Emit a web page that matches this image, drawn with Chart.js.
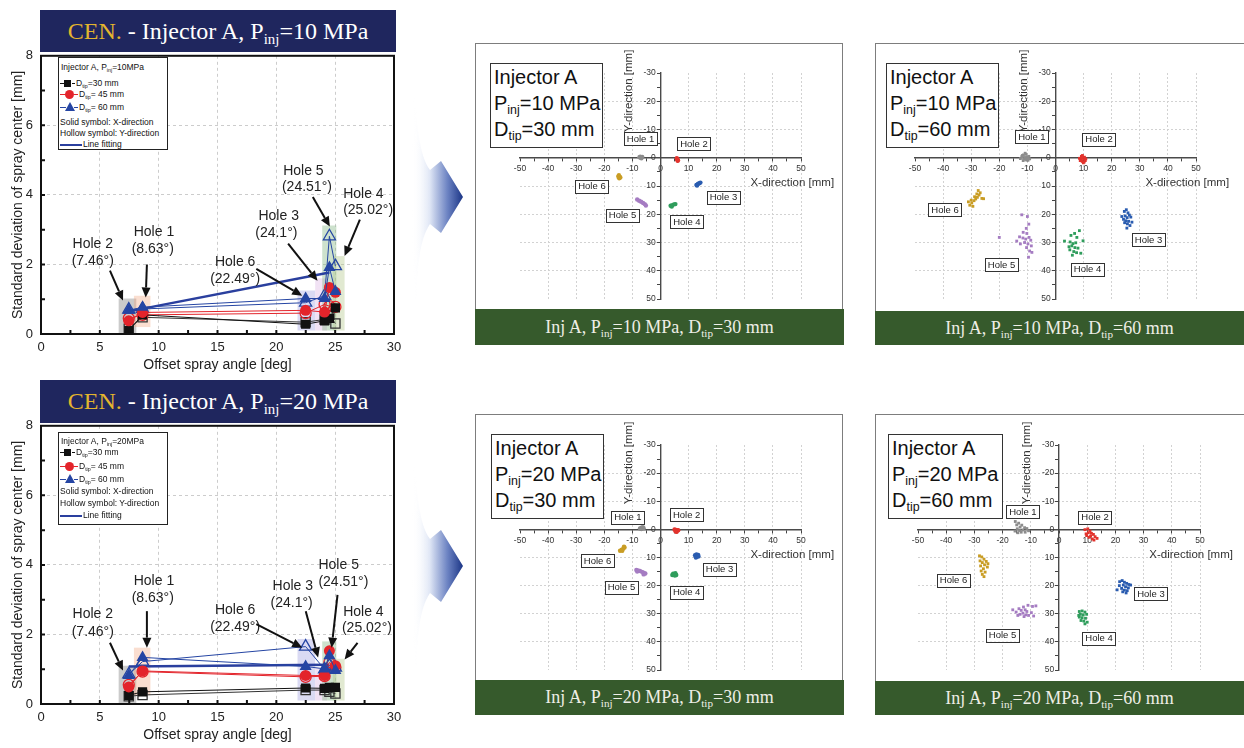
<!DOCTYPE html>
<html>
<head>
<meta charset="utf-8">
<script src="https://cdn.jsdelivr.net/npm/chart.js@4.4.1/dist/chart.umd.min.js"></script>
<style>
  html, body { margin: 0; padding: 0; background: #fff; }
  #page { position: relative; width: 1244px; height: 748px; overflow: hidden; font-family: "Liberation Sans", Arial, sans-serif; }
  .abs { position: absolute; }
  canvas { position: absolute; }
  sub { font-size: 0.62em; vertical-align: -0.35em; line-height: 0; }
  .banner { position: absolute; background: #1f265e; color: #fff; font-family: "Liberation Serif", "Times New Roman", serif; font-size: 24px; text-align: center; white-space: nowrap; }
  .banner .cen { color: #e3b52e; }
  .legend { position: absolute; background: #fff; border: 1px solid #222; box-sizing: border-box; color: #111; }
  .lt { position: absolute; line-height: 10px; white-space: nowrap; font-size: 8.5px; }
  .seg { position: absolute; height: 1px; }
  .sq { position: absolute; width: 7px; height: 7px; background: #111; }
  .ci { position: absolute; width: 9px; height: 9px; border-radius: 50%; background: #e3242b; }
  .tr { position: absolute; width: 0; height: 0; border-left: 5px solid transparent; border-right: 5px solid transparent; border-bottom: 9px solid #2545a3; }
  .fr { position: absolute; border: 1.5px solid #7d7d7d; border-bottom: none; box-sizing: border-box; }
  .gb { position: absolute; background: #365a2c; color: #eeeee6; font-family: "Liberation Serif", "Times New Roman", serif; font-size: 18px; text-align: center; white-space: nowrap; }
  .tb { position: absolute; background: #fff; border: 1.5px solid #333; box-sizing: border-box; font-size: 20px; line-height: 26px; padding-left: 3px; color: #111; white-space: nowrap; }
</style>
</head>
<body>
<div id="page">
  <!-- offset-angle charts -->
  <canvas id="c10" width="410" height="335" style="left:0;top:40px;width:410px;height:335px"></canvas>
  <canvas id="c20" width="410" height="335" style="left:0;top:410px;width:410px;height:335px"></canvas>
  <div class="banner" style="left:40px;top:10px;width:356px;height:42px;line-height:42px"><span class="cen">CEN.</span> - Injector A, P<sub>inj</sub>=10 MPa</div>
  <div class="banner" style="left:40px;top:380px;width:356px;height:43px;line-height:43px"><span class="cen">CEN.</span> - Injector A, P<sub>inj</sub>=20 MPa</div>

  <!-- spray-center scatter panels -->
  <div class="fr" style="left:475px;top:43px;width:368px;height:266px"></div>
  <div class="fr" style="left:875px;top:43px;width:380px;height:268px"></div>
  <div class="fr" style="left:475px;top:414px;width:368px;height:266px"></div>
  <div class="fr" style="left:875px;top:414px;width:380px;height:267px"></div>

  <canvas id="s10a" width="366" height="265" style="left:476px;top:44px;width:366px;height:265px"></canvas>
  <canvas id="s10b" width="368" height="267" style="left:876px;top:44px;width:368px;height:267px"></canvas>
  <canvas id="s20a" width="366" height="265" style="left:476px;top:415px;width:366px;height:265px"></canvas>
  <canvas id="s20b" width="368" height="266" style="left:876px;top:415px;width:368px;height:266px"></canvas>

  <div class="tb" style="left:490px;top:63px;width:113px;height:85px">Injector A<br>P<sub>inj</sub>=10 MPa<br>D<sub>tip</sub>=30 mm</div>
  <div class="tb" style="left:886px;top:63px;width:113px;height:85px">Injector A<br>P<sub>inj</sub>=10 MPa<br>D<sub>tip</sub>=60 mm</div>
  <div class="tb" style="left:491px;top:434px;width:113px;height:85px">Injector A<br>P<sub>inj</sub>=20 MPa<br>D<sub>tip</sub>=30 mm</div>
  <div class="tb" style="left:888px;top:434px;width:115px;height:85px">Injector A<br>P<sub>inj</sub>=20 MPa<br>D<sub>tip</sub>=60 mm</div>

  <div class="gb" style="left:475px;top:309px;width:369px;height:36px;line-height:36px">Inj A, P<sub>inj</sub>=10 MPa, D<sub>tip</sub>=30 mm</div>
  <div class="gb" style="left:875px;top:311px;width:369px;height:34px;line-height:34px">Inj A, P<sub>inj</sub>=10 MPa, D<sub>tip</sub>=60 mm</div>
  <div class="gb" style="left:475px;top:680px;width:369px;height:35px;line-height:35px">Inj A, P<sub>inj</sub>=20 MPa, D<sub>tip</sub>=30 mm</div>
  <div class="gb" style="left:875px;top:681px;width:369px;height:34px;line-height:34px">Inj A, P<sub>inj</sub>=20 MPa, D<sub>tip</sub>=60 mm</div>

  <!-- connecting arrows -->
  <svg class="abs" style="left:0;top:0" width="1244" height="748" viewBox="0 0 1244 748">
    <defs>
      <linearGradient id="ag" x1="0" y1="0" x2="1" y2="0">
        <stop offset="0" stop-color="#ffffff" stop-opacity="0"/>
        <stop offset="0.35" stop-color="#dfe6f5"/>
        <stop offset="0.7" stop-color="#6b82c2"/>
        <stop offset="1" stop-color="#1b3586"/>
      </linearGradient>
      <linearGradient id="fade" x1="0" y1="0" x2="0" y2="1">
        <stop offset="0" stop-color="#fff" stop-opacity="0"/>
        <stop offset="0.3" stop-color="#fff" stop-opacity="1"/>
        <stop offset="0.7" stop-color="#fff" stop-opacity="1"/>
        <stop offset="1" stop-color="#fff" stop-opacity="0"/>
      </linearGradient>
      <mask id="am" maskContentUnits="objectBoundingBox">
        <rect x="0" y="0" width="1" height="1" fill="url(#fade)"/>
      </mask>
      <path id="arrowShape" d="M414 87 C417 125 419 155 430 170 L441 161 L463 197 L441 233 L430 224 C419 240 417 270 416 310 C413 270 412 240 412 197 C412 150 412 120 414 87 Z"/>
    </defs>
    <g mask="url(#am)"><use href="#arrowShape" fill="url(#ag)"/></g>
    <g mask="url(#am)" transform="translate(0,369)"><use href="#arrowShape" fill="url(#ag)"/></g>
  </svg>
</div>

<script>
const FONT = '"Liberation Sans", Arial, sans-serif';

// ---------- Standard deviation vs. offset spray angle ----------
const holeNames  = ['Hole 2', 'Hole 1', 'Hole 6', 'Hole 3', 'Hole 5', 'Hole 4'];
const holeAngles = [7.46, 8.63, 22.49, 24.1, 24.51, 25.02];

// Pinj = 10 MPa (X = solid symbols, Y = hollow symbols)
const p10_d30_x = [0.10, 0.55, 0.28, 0.38, 0.45, 0.75];
const p10_d30_y = [0.15, 0.48, 0.34, 0.42, 0.55, 0.30];
const p10_d45_x = [0.38, 0.62, 0.68, 0.63, 1.34, 1.20];
const p10_d45_y = [0.45, 0.55, 0.60, 0.85, 0.80, 0.78];
const p10_d60_x = [0.68, 0.77, 1.02, 1.02, 1.91, 1.22];
const p10_d60_y = [0.70, 0.72, 0.90, 1.10, 2.81, 1.95];
const p10_fit   = [[7.46, 0.65], [24.51, 1.77]];

// Pinj = 20 MPa
const p20_d30_x = [0.25, 0.35, 0.46, 0.45, 0.48, 0.48];
const p20_d30_y = [0.22, 0.26, 0.40, 0.40, 0.35, 0.30];
const p20_d45_x = [0.49, 0.95, 0.82, 0.82, 1.53, 1.10];
const p20_d45_y = [0.55, 0.93, 0.78, 0.80, 1.20, 1.05];
const p20_d60_x = [0.82, 1.34, 1.08, 1.01, 1.39, 0.96];
const p20_d60_y = [0.85, 1.22, 1.65, 1.00, 1.10, 1.05];
const p20_fit   = [[7.46, 1.08], [24.51, 1.13]];

// ---------- Spray-center scatter (x, y in mm) ----------
// Pinj = 10 MPa, Dtip = 30 mm
const p10d30_h1 = [[-7.5,-0.2],[-7,0],[-6.5,-0.3],[-6.8,0.2],[-7.2,-0.4]];
const p10d30_h2 = [[5.8,0.2],[6,0.6],[6.2,0.9],[5.9,0.4],[6.1,1.1]];
const p10d30_h3 = [[12.8,9.6],[13.3,9.3],[13.8,9.0],[14.2,8.8],[13,9.8]];
const p10d30_h4 = [[3.6,17],[4.2,16.8],[4.8,16.5],[5.3,16.4],[4,17.3]];
const p10d30_h5 = [[-8.3,14.8],[-7.6,15.2],[-6.9,15.6],[-6.2,16],[-5.6,16.4],[-5.2,16.9]];
const p10d30_h6 = [[-14.8,6.2],[-14.5,6.8],[-14.7,7.3],[-14.3,7.0],[-15,6.6]];
// Pinj = 10 MPa, Dtip = 60 mm
const p10d60_h1 = [[-12.5,0.3],[-11.8,-0.8],[-11.2,0.5],[-10.5,-1.2],[-10,0.2],[-9.5,-0.5],[-11,-0.1],[-10.3,0.8],[-12,-0.4],[-9.2,0.4],[-10.8,-1.6],[-11.5,1.0],[-10.1,-0.3],[-9.8,0.9],[-11.4,-1.0],[-10.6,0.4]];
const p10d60_h2 = [[8.5,0.2],[9.2,-0.5],[10,0.3],[10.6,1.0],[9.5,1.3],[8.8,1.0],[10.3,-0.2],[9.9,1.8],[9.0,0.6],[10.8,0.4],[9.6,-0.8],[10.2,1.5],[9.4,0.2]];
const p10d60_h3 = [[24.5,19],[25.2,18.4],[25.8,19.5],[26.3,20.3],[24.8,20.6],[25.5,21.2],[26.8,21.0],[24.2,21.8],[25,22.3],[26,22.5],[27.2,22.8],[25.6,23.4],[24.6,23],[26.5,24],[25.4,24.9],[23.6,20.8]];
const p10d60_h4 = [[5.5,27.5],[6.8,26.8],[8.5,25.8],[7.6,28.2],[3.2,29.5],[5.2,29.8],[6.2,30.4],[7.2,30.1],[9.8,29.4],[5.8,31.2],[6.9,31.8],[8.0,32],[5.1,32.6],[6.5,33.2],[7.5,33.6],[9,33.8],[6,34.5],[4.8,31.5]];
const p10d60_h5 = [[-12,20.2],[-10,20.8],[-9.5,23.5],[-10.4,25],[-11.5,26.4],[-10.2,26.8],[-12.8,28],[-11.6,28.4],[-10.6,28.8],[-9.4,28.2],[-13.8,29.5],[-11,30],[-9.8,30.5],[-8.6,31.2],[-10.3,31.8],[-9.2,33],[-8.4,33.5],[-9.6,35.2],[-20,28.2],[-12.5,30.5],[-8.8,29.2]];
const p10d60_h6 = [[-30.5,16.8],[-29.8,16],[-29,15.2],[-28.4,14.6],[-27.8,14],[-27.2,13.2],[-26.8,12.4],[-27.5,11.6],[-28.8,13.8],[-30,15],[-26.2,14.4],[-25.6,14.5],[-31,15.6],[-28,12.8],[-29.4,17.2]];
// Pinj = 20 MPa, Dtip = 30 mm
const p20d30_h1 = [[-7.3,-0.3],[-6.8,-0.6],[-6.3,-0.8],[-6,-0.4],[-6.8,-0.1]];
const p20d30_h2 = [[5,0],[5.5,0.2],[6,0.4],[5.7,0.9],[6.3,0.3],[5.3,0.6]];
const p20d30_h3 = [[12.3,9.2],[12.8,8.9],[13.4,9.1],[13,9.7],[12.6,10],[13.5,9.6]];
const p20d30_h4 = [[4.2,16.2],[4.8,16],[5.3,15.6],[5.6,16.2],[4.5,15.8],[5.1,16.4]];
const p20d30_h5 = [[-8.6,14.4],[-8,14.6],[-7.3,14.8],[-6.6,15.1],[-6,15.4],[-5.4,15.7],[-8.3,15],[-6,16]];
const p20d30_h6 = [[-14.4,7.6],[-13.8,7.2],[-13.2,6.8],[-12.8,6.4],[-13.6,7.6],[-13,6.2]];
// Pinj = 20 MPa, Dtip = 60 mm
const p20d60_h1 = [[-15.5,-2.8],[-15,-1.6],[-14.3,-2.2],[-13.8,-0.8],[-13.2,-1.5],[-14.8,-0.2],[-14,0.4],[-12.8,0.2],[-15.6,0.6],[-13.4,1.0],[-12.2,-0.6],[-11.4,-0.3],[-10.8,0.5],[-14.6,1.2],[-12,1.0]];
const p20d60_h2 = [[9.2,0.1],[10.2,-0.2],[11,0.6],[10.4,1.2],[9.6,1.6],[11.5,1.4],[12.2,1.8],[11.2,2.4],[10.6,2.8],[12.8,2.6],[13.5,3.2],[11.8,3.4],[9.8,2.2],[12.4,3.8]];
const p20d60_h3 = [[21.5,18.6],[22.4,18.2],[23.2,18.8],[24,19.2],[24.8,19.6],[22.8,19.8],[23.6,20.4],[24.6,20.8],[22.2,21],[23.2,21.6],[24.2,21.8],[20.6,21.5],[25.4,19.8],[23.8,22.6],[22.6,22.2],[21.4,20]];
const p20d60_h4 = [[7.2,29.2],[8.2,29],[9.2,29.4],[7.6,30.2],[8.6,30.4],[9.8,30.2],[7.2,31.2],[8.2,31.4],[9.4,31.6],[7.8,32.4],[8.8,32.6],[10,33],[9.2,33.6],[7,30.6]];
const p20d60_h5 = [[-16.4,28.6],[-15.2,29.4],[-14.2,28.2],[-13.4,28.8],[-12.6,27.6],[-12,28.6],[-11.4,29.2],[-12.8,29.8],[-13.8,30.2],[-11.8,30.4],[-10.8,30.6],[-9.8,29.6],[-9,30.8],[-12.4,31],[-14.6,30.6],[-8.2,27.2],[-9.4,27.4],[-11,27]];
const p20d60_h6 = [[-28.2,9.4],[-27.4,9.8],[-26.6,10.6],[-28,11.2],[-27.2,11.8],[-25.8,11.4],[-26.4,12.6],[-27.8,13],[-25.4,13.4],[-26.8,14],[-27.6,14.8],[-26.2,15.2],[-27.2,16],[-26.6,16.8],[-25.2,12.2]];

// ---------- annotation layout (offset-angle charts) ----------
// shaded groups per hole: [x0, x1, top, bottom, colour]
const shade10 = [[6.6,8.1,1.02,0,'rgba(105,105,105,0.35)'],[7.9,9.3,1.1,0.2,'rgba(240,160,120,0.35)'],[21.8,23.3,1.25,0.1,'rgba(150,150,220,0.35)'],[23.3,24.3,1.6,0.1,'rgba(225,190,230,0.45)'],[23.9,25.1,3.12,0.1,'rgba(130,180,130,0.4)'],[24.8,25.8,2.24,0.1,'rgba(180,200,140,0.4)']];
const shade20 = [[6.6,8.1,1.1,0,'rgba(105,105,105,0.35)'],[7.9,9.3,1.62,0.25,'rgba(240,160,120,0.35)'],[21.8,23.3,1.87,0.1,'rgba(150,150,220,0.35)'],[23.3,24.3,1.05,0.1,'rgba(225,190,230,0.45)'],[23.9,25.1,1.8,0.1,'rgba(130,180,130,0.4)'],[24.8,25.8,1.3,0.1,'rgba(180,200,140,0.4)']];
// callouts: [name x, name y, angle x, angle y, arrow from x, from y, to x, to y]
const call10 = [[4.4,2.58,4.4,2.1,5.86,1.82,6.97,0.96],[9.6,2.93,9.5,2.43,9.0,2.0,8.9,1.05],[16.5,2.08,16.5,1.58,18.3,1.87,22.2,1.1],[20.2,3.4,20.0,2.9,21.0,2.6,23.5,1.53],[22.3,4.68,22.6,4.23,23.1,3.94,24.55,3.09],[27.4,4.03,27.8,3.55,27.1,3.29,25.8,2.24]];
const call20 = [[4.4,2.58,4.4,2.07,5.86,1.76,6.97,0.96],[9.6,3.52,9.5,3.04,9.0,2.67,9.0,1.62],[16.5,2.7,16.5,2.21,18.3,2.3,22.2,1.62],[21.4,3.38,21.3,2.9,22.5,2.67,23.55,1.34],[25.3,4.0,25.7,3.49,25.2,3.14,24.7,1.62],[27.4,2.64,27.7,2.18,26.9,1.76,25.8,1.28]];

// hole tags on the scatter panels: [text, x, y]
const tags10a = [['Hole 1',-7.1,-6.8],['Hole 2',11.9,-5],['Hole 3',22.4,14],['Hole 4',9.4,22.6],['Hole 5',-13.5,20.3],['Hole 6',-24.4,10.1]];
const tags10b = [['Hole 1',-8.4,-7.4],['Hole 2',15.5,-6.6],['Hole 3',33.1,29.1],['Hole 4',11.4,39.5],['Hole 5',-19.2,37.9],['Hole 6',-39.3,18.4]];
const tags20a = [['Hole 1',-11.6,-4.3],['Hole 2',9.3,-5.3],['Hole 3',21,14.2],['Hole 4',9.3,22.3],['Hole 5',-13.9,20.6],['Hole 6',-22.4,11.2]];
const tags20b = [['Hole 1',-12.8,-6.4],['Hole 2',12.8,-4.4],['Hole 3',32.6,22.9],['Hole 4',14.2,38.7],['Hole 5',-20,37.6],['Hole 6',-37.4,18.1]];

// ---------- plugins ----------
function drawArrow(ctx, x1, y1, x2, y2) {
  const a = Math.atan2(y2 - y1, x2 - x1), hl = 10, hw = 4.5;
  const bx = x2 - hl * Math.cos(a), by = y2 - hl * Math.sin(a);
  ctx.beginPath(); ctx.moveTo(x1, y1); ctx.lineTo(bx, by); ctx.stroke();
  ctx.beginPath();
  ctx.moveTo(x2, y2);
  ctx.lineTo(bx + hw * Math.sin(a), by - hw * Math.cos(a));
  ctx.lineTo(bx - hw * Math.sin(a), by + hw * Math.cos(a));
  ctx.closePath(); ctx.fill();
}

const offsetDecor = {
  id: 'offsetDecor',
  beforeDatasetsDraw(chart, args, o) {
    const { ctx, scales: { x, y } } = chart;
    ctx.save();
    o.shade.forEach(s => {
      const x0 = x.getPixelForValue(s[0]), x1 = x.getPixelForValue(s[1]);
      const yt = y.getPixelForValue(s[2]), yb = y.getPixelForValue(s[3]);
      ctx.fillStyle = s[4];
      ctx.fillRect(x0, yt, x1 - x0, yb - yt);
    });
    ctx.restore();
  },
  afterDatasetsDraw(chart, args, o) {
    const { ctx, scales: { x, y } } = chart;
    ctx.save();
    ctx.font = '14px ' + FONT;
    ctx.strokeStyle = '#111';
    ctx.lineWidth = 2;
    ctx.textAlign = 'center';
    ctx.textBaseline = 'middle';
    o.callouts.forEach((c, i) => {
      ctx.fillStyle = '#222';
      ctx.fillText(holeNames[i], x.getPixelForValue(c[0]), y.getPixelForValue(c[1]));
      ctx.fillText('(' + holeAngles[i] + '°)', x.getPixelForValue(c[2]), y.getPixelForValue(c[3]));
      ctx.fillStyle = '#111';
      drawArrow(ctx, x.getPixelForValue(c[4]), y.getPixelForValue(c[5]), x.getPixelForValue(c[6]), y.getPixelForValue(c[7]));
    });
    ctx.restore();
  },
  afterDraw(chart) {
    const { ctx, chartArea: a, scales: { x, y } } = chart;
    ctx.save();
    ctx.strokeStyle = '#111';
    ctx.lineWidth = 2;
    ctx.strokeRect(a.left, a.top, a.right - a.left, a.bottom - a.top);
    ctx.beginPath();
    for (let v = x.min + 2.5; v < x.max; v += 2.5) {
      const px = x.getPixelForValue(v);
      ctx.moveTo(px, a.bottom); ctx.lineTo(px, a.bottom - 4);
    }
    for (let v = y.min + 1; v < y.max; v += 1) {
      const py = y.getPixelForValue(v);
      ctx.moveTo(a.left, py); ctx.lineTo(a.left + 4, py);
    }
    ctx.stroke();
    ctx.restore();
  }
};

const sprayDecor = {
  id: 'sprayDecor',
  afterDatasetsDraw(chart, args, o) {
    const { ctx, chartArea: a, scales: { x, y } } = chart;
    ctx.save();
    ctx.fillStyle = '#333';
    ctx.font = '11.5px ' + FONT;
    ctx.textBaseline = 'middle';
    ctx.textAlign = 'left';
    ctx.fillText('X-direction [mm]', x.getPixelForValue(32), y.getPixelForValue(8.9));
    ctx.save();
    ctx.translate(x.getPixelForValue(0) - 32, a.top + 18);
    ctx.rotate(-Math.PI / 2);
    ctx.textAlign = 'center';
    ctx.fillText('Y-direction [mm]', 0, 0);
    ctx.restore();
    ctx.font = '9.5px ' + FONT;
    ctx.textAlign = 'center';
    o.tags.forEach(t => {
      const px = x.getPixelForValue(t[1]), py = y.getPixelForValue(t[2]);
      const w = ctx.measureText(t[0]).width + 6, h = 13;
      ctx.fillStyle = '#fff';
      ctx.fillRect(px - w / 2, py - h / 2, w, h);
      ctx.strokeStyle = '#333';
      ctx.lineWidth = 1;
      ctx.strokeRect(Math.round(px - w / 2) + 0.5, Math.round(py - h / 2) + 0.5, Math.round(w), h);
      ctx.fillStyle = '#222';
      ctx.fillText(t[0], px, py + 0.5);
    });
    ctx.restore();
  }
};

// ---------- chart builders ----------
function offsetChart(id, s, fit, shade, callouts) {
  const BLK = '#111', RED = '#e3242b', BLU = '#2545a3';
  const series = (vals, color, shape, r, hollow) => ({
    data: holeAngles.map((a, i) => ({ x: a, y: vals[i] })),
    showLine: true, borderColor: color, borderWidth: 1,
    pointStyle: shape, pointRadius: r,
    pointBorderColor: color, pointBorderWidth: hollow ? 1.3 : 0,
    pointBackgroundColor: hollow ? 'rgba(255,255,255,0)' : color
  });
  return new Chart(document.getElementById(id), {
    type: 'scatter',
    data: {
      datasets: [
        series(s.d60x, BLU, 'triangle', 7, false),
        series(s.d45x, RED, 'circle', 5.5, false),
        series(s.d30x, BLK, 'rect', 6.5, false),
        series(s.d60y, BLU, 'triangle', 7, true),
        series(s.d45y, RED, 'circle', 5.5, true),
        series(s.d30y, '#333', 'rect', 6.5, true),
        { data: fit.map(p => ({ x: p[0], y: p[1] })), showLine: true, borderColor: '#2a3f9e', borderWidth: 2.5, pointRadius: 0 }
      ]
    },
    options: {
      responsive: false, animation: false, events: [],
      layout: { padding: { top: 12, right: 16, left: 0, bottom: 0 } },
      plugins: { legend: { display: false }, tooltip: { enabled: false }, offsetDecor: { shade, callouts } },
      scales: {
        x: {
          type: 'linear', min: 0, max: 30,
          ticks: { stepSize: 5, autoSkip: false, maxRotation: 0, padding: 6, color: '#222', font: { size: 13, family: FONT } },
          grid: { color: '#cccccc', drawTicks: false },
          border: { display: false, dash: [3, 3] },
          title: { display: true, text: 'Offset spray angle [deg]', color: '#222', font: { size: 14, family: FONT }, padding: { top: 0, bottom: 1 } },
          afterFit: sc => { sc.height = 41; }
        },
        y: {
          type: 'linear', min: 0, max: 8,
          ticks: { stepSize: 2, autoSkip: false, padding: 8, color: '#222', font: { size: 13, family: FONT } },
          grid: { color: '#cccccc', drawTicks: false },
          border: { display: false, dash: [3, 3] },
          title: { display: true, text: 'Standard deviation of spray center [mm]', color: '#222', font: { size: 14, family: FONT }, padding: { top: 10, bottom: 0 } },
          afterFit: sc => { sc.width = 41; }
        }
      }
    },
    plugins: [offsetDecor]
  });
}

const HOLE_COLORS = ['#8c8c8c', '#e2332d', '#2a5cb0', '#2f9d5c', '#a57cc2', '#c99d24'];

function sprayChart(id, holes, tags, pad, shape, r) {
  const gridCol = (lo, hi) => c => (c.tick && c.tick.value % 10 === 0 && c.tick.value > lo && c.tick.value < hi && c.tick.value !== 0) ? '#d2d2d2' : 'rgba(0,0,0,0)';
  return new Chart(document.getElementById(id), {
    type: 'scatter',
    data: {
      datasets: holes.map((pts, i) => ({
        label: 'Hole ' + (i + 1),
        data: pts.map(p => ({ x: p[0], y: p[1] })),
        backgroundColor: HOLE_COLORS[i], borderColor: HOLE_COLORS[i],
        pointStyle: shape, pointRadius: r, pointBorderWidth: 0
      }))
    },
    options: {
      responsive: false, animation: false, events: [],
      layout: { padding: pad },
      plugins: { legend: { display: false }, tooltip: { enabled: false }, sprayDecor: { tags } },
      scales: {
        x: {
          type: 'linear', min: -50, max: 50, position: { y: 0 },
          ticks: { stepSize: 5, autoSkip: false, maxRotation: 0, padding: 3, color: '#333', font: { size: 8.5, family: FONT },
                   callback: v => (v % 10 === 0 ? String(v) : '') },
          grid: { color: gridCol(-50, 51), tickColor: '#444', tickLength: 3, lineWidth: 1 },
          border: { color: '#4a4a4a', width: 1.4, dash: [2, 2] }
        },
        y: {
          type: 'linear', min: -30, max: 50, reverse: true, position: { x: 0 },
          ticks: { stepSize: 5, autoSkip: false, padding: 2, color: '#333', font: { size: 8.5, family: FONT },
                   callback: v => (v % 10 === 0 ? String(v) + '  ' : '') },
          grid: { color: gridCol(-30, 50), tickColor: '#444', tickLength: 3, lineWidth: 1 },
          border: { color: '#4a4a4a', width: 1.4, dash: [2, 2] }
        }
      }
    },
    plugins: [sprayDecor]
  });
}

// ---------- legends ----------
function buildLegend(left, top, p, r) {
  const d = document.createElement('div');
  d.className = 'legend';
  d.style.cssText = `left:${left}px;top:${top}px;width:110px;height:93px`;
  d.innerHTML =
    `<div class="lt" style="top:${r[0] - 5}px;left:2px">Injector A, P<sub>inj</sub>=${p}MPa</div>` +
    `<div class="seg" style="top:${r[1]}px;left:1px;width:4px;background:#111"></div>` +
    `<div class="sq" style="top:${r[1] - 3}px;left:5px"></div>` +
    `<div class="seg" style="top:${r[1]}px;left:13px;width:3px;background:#111"></div>` +
    `<div class="lt" style="top:${r[1] - 5}px;left:17px">D<sub>tip</sub>=30 mm</div>` +
    `<div class="seg" style="top:${r[2]}px;left:1px;width:6px;background:#e3242b"></div>` +
    `<div class="ci" style="top:${r[2] - 4}px;left:6px"></div>` +
    `<div class="seg" style="top:${r[2]}px;left:15px;width:4px;background:#e3242b"></div>` +
    `<div class="lt" style="top:${r[2] - 5}px;left:20px">D<sub>tip</sub>= 45 mm</div>` +
    `<div class="seg" style="top:${r[3]}px;left:1px;width:6px;background:#2545a3"></div>` +
    `<div class="tr" style="top:${r[3] - 5}px;left:6px"></div>` +
    `<div class="seg" style="top:${r[3]}px;left:15px;width:4px;background:#2545a3"></div>` +
    `<div class="lt" style="top:${r[3] - 5}px;left:20px">D<sub>tip</sub>= 60 mm</div>` +
    `<div class="lt" style="top:${r[4] - 5}px;left:1px">Solid symbol: X-direction</div>` +
    `<div class="lt" style="top:${r[5] - 5}px;left:1px">Hollow symbol: Y-direction</div>` +
    `<div class="seg" style="top:${r[6]}px;left:1px;width:22px;height:2px;background:#2a3f9e"></div>` +
    `<div class="lt" style="top:${r[6] - 5}px;left:24px">Line fitting</div>`;
  document.getElementById('page').appendChild(d);
}

// ---------- draw ----------
offsetChart('c10', { d30x: p10_d30_x, d30y: p10_d30_y, d45x: p10_d45_x, d45y: p10_d45_y, d60x: p10_d60_x, d60y: p10_d60_y }, p10_fit, shade10, call10);
offsetChart('c20', { d30x: p20_d30_x, d30y: p20_d30_y, d45x: p20_d45_x, d45y: p20_d45_y, d60x: p20_d60_x, d60y: p20_d60_y }, p20_fit, shade20, call20);
buildLegend(58, 57, 10, [9, 25, 36, 49, 64, 75, 86]);
buildLegend(58, 432, 20, [8, 19, 33, 46, 58, 70, 82]);

sprayChart('s10a', [p10d30_h1, p10d30_h2, p10d30_h3, p10d30_h4, p10d30_h5, p10d30_h6], tags10a, { left: 44, right: 41, top: 29, bottom: 10 }, 'circle', 2.2);
sprayChart('s10b', [p10d60_h1, p10d60_h2, p10d60_h3, p10d60_h4, p10d60_h5, p10d60_h6], tags10b, { left: 39, right: 48, top: 29, bottom: 12 }, 'rect', 2.0);
sprayChart('s20a', [p20d30_h1, p20d30_h2, p20d30_h3, p20d30_h4, p20d30_h5, p20d30_h6], tags20a, { left: 44, right: 41, top: 30, bottom: 10 }, 'circle', 2.2);
sprayChart('s20b', [p20d60_h1, p20d60_h2, p20d60_h3, p20d60_h4, p20d60_h5, p20d60_h6], tags20b, { left: 42, right: 44, top: 30, bottom: 11 }, 'rect', 2.0);
</script>
</body>
</html>
